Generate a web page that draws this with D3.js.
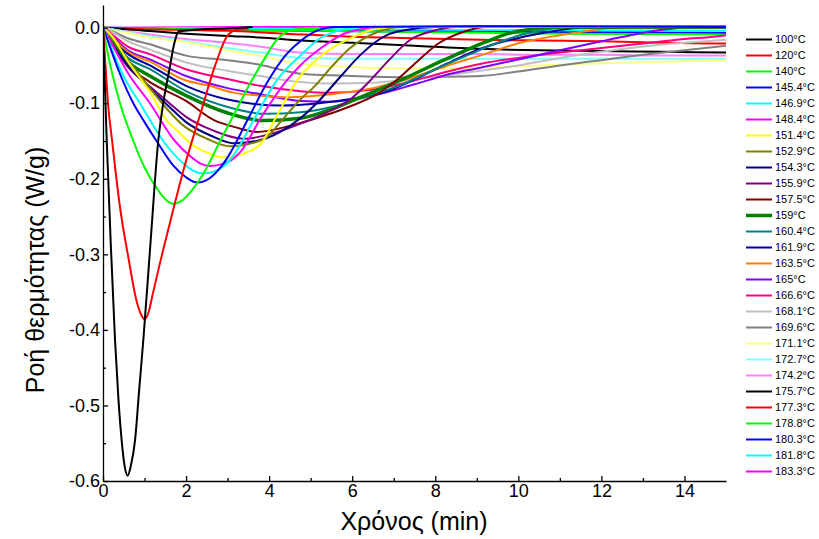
<!DOCTYPE html>
<html>
<head>
<meta charset="utf-8">
<script src="https://d3js.org/d3.v7.min.js"></script>
<style>
  body { margin: 0; background: #fff; }
  svg { display: block; font-family: Arial, "Liberation Sans", sans-serif; }
  .axis text { font-size: 18px; fill: #000; }
  .axis path, .axis line { stroke: #000; stroke-width: 1.3; }
  .title { font-size: 25px; }
  .legend text { font-size: 11px; }
</style>
</head>
<body>
<svg id="chart" width="819" height="539"></svg>
<script>
// legend labels (isothermal temperatures)
const labels = ['100°C', '120°C', '140°C', '145.4°C', '146.9°C', '148.4°C', '151.4°C', '152.9°C',
  '154.3°C', '155.9°C', '157.5°C', '159°C', '160.4°C', '161.9°C', '163.5°C', '165°C', '166.6°C',
  '168.1°C', '169.6°C', '171.1°C', '172.7°C', '174.2°C', '175.7°C', '177.3°C', '178.8°C',
  '180.3°C', '181.8°C', '183.3°C'];
const colors = ['#000000', '#ff0000', '#00ff00', '#0000ff', '#00ffff', '#ff00ff', '#ffff00', '#808000',
  '#000080', '#800080', '#800000', '#008000', '#008080', '#0000a0', '#ff8000', '#8000ff', '#ff0080',
  '#c0c0c0', '#808080', '#ffff80', '#80ffff', '#ff80ff', '#000000', '#ff0000', '#00ff00',
  '#0000ff', '#00ffff', '#ff00ff'];

const xTicks = [0, 2, 4, 6, 8, 10, 12, 14];
const yTicks = [0, -0.1, -0.2, -0.3, -0.4, -0.5, -0.6];

// heat flow curves, [time (min), heat flow (W/g)]
const c100 = [[0,0],[0.03,-0.05],[0.09,-0.15],[0.19,-0.29],[0.29,-0.414],[0.37,-0.49],[0.45,-0.547],[0.52,-0.58],[0.595,-0.593],[0.67,-0.58],[0.77,-0.547],[0.87,-0.48],[0.97,-0.414],[1.15,-0.28],[1.33,-0.15],[1.45,-0.1],[1.6,-0.055],[1.72,-0.02],[1.82,-0.005],[2.4,-0.002],[3.0,-0.001],[3.6,0.001]];
const c120 = [[0,0],[0.06,-0.05],[0.12,-0.1],[0.22,-0.15],[0.41,-0.238],[0.61,-0.304],[0.81,-0.362],[0.92,-0.38],[1.0,-0.386],[1.1,-0.376],[1.2,-0.352],[1.4,-0.305],[1.65,-0.25],[1.93,-0.19],[2.34,-0.115],[2.7,-0.05],[2.98,-0.012],[3.2,-0.003],[3.5,-0.001]];
const c140 = [[0,0],[0.1,-0.03],[0.41,-0.1],[0.73,-0.15],[1.0,-0.185],[1.3,-0.213],[1.5,-0.227],[1.69,-0.233],[1.9,-0.229],[2.1,-0.218],[2.4,-0.195],[2.82,-0.15],[3.2,-0.11],[3.58,-0.07],[3.9,-0.04],[4.2,-0.015],[4.45,-0.005],[4.8,-0.001],[5.2,0]];
const c145 = [[0,0],[0.1,-0.015],[0.4,-0.06],[0.73,-0.1],[1.0,-0.125],[1.29,-0.15],[1.7,-0.183],[2.0,-0.198],[2.27,-0.205],[2.55,-0.2],[2.8,-0.187],[3.02,-0.17],[3.5,-0.12],[3.98,-0.07],[4.42,-0.035],[4.75,-0.018],[5.2,-0.003],[5.6,0.001],[9,0.002],[15,0.001]];
const c146 = [[0,0],[0.15,-0.02],[0.5,-0.065],[0.89,-0.1],[1.45,-0.15],[1.9,-0.178],[2.2,-0.19],[2.41,-0.193],[2.7,-0.19],[2.95,-0.181],[3.13,-0.17],[3.65,-0.12],[4.18,-0.07],[4.75,-0.037],[5.2,-0.015],[5.8,-0.002],[6.3,0.001],[15,0.001]];
const c148 = [[0,0],[0.2,-0.02],[0.6,-0.06],[1.13,-0.1],[1.73,-0.15],[2.1,-0.17],[2.35,-0.18],[2.58,-0.183],[2.9,-0.18],[3.1,-0.175],[3.3,-0.165],[3.85,-0.115],[4.42,-0.07],[4.75,-0.05],[5.3,-0.025],[5.8,-0.008],[6.2,-0.002],[6.6,0.001],[15,0.002]];
const c151 = [[0,0],[0.2,-0.01],[0.6,-0.045],[1.13,-0.085],[1.53,-0.122],[1.86,-0.14],[2.1,-0.153],[2.58,-0.167],[2.89,-0.172],[3.3,-0.168],[3.78,-0.155],[4.2,-0.115],[4.67,-0.07],[5.3,-0.035],[6.0,-0.013],[6.4,-0.004],[7.0,0.001],[15,0.002]];
const c152 = [[0,0],[0.3,-0.02],[0.7,-0.05],[1.13,-0.08],[1.5,-0.105],[1.9,-0.128],[2.5,-0.147],[3.06,-0.157],[3.5,-0.154],[3.94,-0.145],[4.27,-0.125],[4.75,-0.095],[5.07,-0.079],[5.5,-0.052],[5.95,-0.027],[6.6,-0.006],[7.2,0.001],[15,0.002]];
const c154 = [[0,0],[0.2,-0.02],[0.6,-0.05],[1.13,-0.08],[1.6,-0.105],[2.0,-0.125],[2.6,-0.143],[3.14,-0.153],[3.7,-0.15],[4.27,-0.138],[4.75,-0.12],[5.23,-0.095],[5.7,-0.066],[6.2,-0.036],[6.83,-0.01],[7.3,-0.003],[8,0.001],[15,0.002]];
const c155 = [[0,0],[0.2,-0.02],[0.6,-0.052],[1.13,-0.078],[1.6,-0.1],[2.0,-0.118],[2.6,-0.135],[3.4,-0.147],[4.2,-0.138],[4.8,-0.126],[5.4,-0.112],[5.95,-0.095],[6.4,-0.072],[6.9,-0.042],[7.4,-0.016],[7.9,-0.005],[8.5,0.001],[15,0.002]];
const c157 = [[0,0],[0.2,-0.02],[0.6,-0.05],[1.13,-0.072],[2,-0.097],[2.66,-0.122],[3.2,-0.132],[3.7,-0.138],[4.5,-0.13],[5.3,-0.117],[6.0,-0.103],[6.6,-0.088],[7.1,-0.068],[7.6,-0.043],[8.1,-0.02],[8.6,-0.007],[9.2,0.001],[15,0.002]];
const c159 = [[0,0],[0.2,-0.018],[0.6,-0.045],[1.13,-0.064],[2,-0.09],[3,-0.113],[3.86,-0.123],[4.75,-0.12],[5.5,-0.108],[6.2,-0.092],[7.3,-0.066],[8.2,-0.043],[9.25,-0.018],[9.8,-0.007],[10.3,-0.002],[10.8,0.001],[15,0.001]];
const c160 = [[0,0],[0.2,-0.017],[0.6,-0.04],[1.13,-0.055],[2,-0.084],[3,-0.105],[3.9,-0.114],[4.75,-0.112],[5.5,-0.105],[6.3,-0.092],[7.2,-0.075],[8.0,-0.055],[8.8,-0.036],[9.5,-0.02],[10.1,-0.009],[10.7,-0.002],[11.2,0.001],[15,0.001]];
const c161 = [[0,0],[0.2,-0.015],[0.6,-0.035],[1.13,-0.05],[2,-0.077],[3,-0.095],[4.3,-0.103],[5.2,-0.1],[6.0,-0.094],[6.8,-0.085],[7.6,-0.066],[8.3,-0.047],[9.08,-0.028],[9.6,-0.019],[10.3,-0.01],[10.9,-0.004],[11.5,0],[15,0.001]];
const c163 = [[0,0],[0.2,-0.012],[0.6,-0.032],[1.13,-0.045],[2,-0.07],[2.5,-0.076],[3.14,-0.086],[3.8,-0.09],[4.5,-0.092],[5.5,-0.088],[6.5,-0.08],[7.5,-0.065],[8.3,-0.05],[9.08,-0.037],[10.05,-0.02],[11,-0.01],[11.7,-0.004],[12.3,0],[15,0.001]];
const c165 = [[0,0],[0.2,-0.01],[0.6,-0.03],[1.13,-0.042],[2,-0.064],[3,-0.08],[3.78,-0.088],[4.75,-0.097],[5.5,-0.098],[6.5,-0.09],[7.5,-0.075],[8.3,-0.062],[9.08,-0.053],[10,-0.042],[11,-0.03],[12,-0.018],[12.7,-0.01],[13.3,-0.004],[14,0],[15,0.001]];
const c166 = [[0,0],[0.2,-0.008],[0.6,-0.025],[1.13,-0.035],[2,-0.055],[3,-0.068],[3.78,-0.077],[4.75,-0.084],[5.5,-0.086],[6.5,-0.082],[7.5,-0.07],[8.3,-0.058],[9.08,-0.048],[10,-0.04],[11,-0.033],[12,-0.027],[13,-0.021],[14,-0.015],[14.7,-0.012],[15,-0.01]];
const c168 = [[0,0],[0.2,-0.005],[0.6,-0.018],[1.13,-0.029],[2,-0.046],[3,-0.057],[3.78,-0.064],[4.75,-0.072],[5.5,-0.074],[6.5,-0.073],[7.5,-0.068],[8.3,-0.063],[9.08,-0.057],[10,-0.05],[11,-0.04],[12,-0.032],[13,-0.025],[14,-0.02],[15,-0.016]];
const c169 = [[0,0],[0.2,-0.004],[0.6,-0.014],[1.13,-0.022],[2,-0.037],[3,-0.043],[3.78,-0.049],[4.75,-0.061],[5.5,-0.063],[6.5,-0.065],[7.5,-0.066],[8.3,-0.065],[9.08,-0.064],[10,-0.058],[11,-0.05],[12,-0.043],[13,-0.036],[14,-0.03],[15,-0.024]];
const c171 = [[0,0],[0.2,-0.003],[0.6,-0.007],[1.13,-0.013],[2,-0.019],[3,-0.03],[3.78,-0.037],[4.75,-0.048],[6,-0.052],[7.5,-0.054],[9,-0.053],[10.5,-0.05],[12,-0.047],[13.5,-0.045],[15,-0.043]];
const c172 = [[0,0],[0.3,-0.003],[1,-0.01],[2,-0.018],[3,-0.027],[3.78,-0.033],[4.75,-0.04],[6,-0.041],[7.5,-0.041],[9.08,-0.041],[10.5,-0.041],[12,-0.041],[13.5,-0.041],[15,-0.041]];
const c174 = [[0,0],[0.3,-0.003],[1,-0.008],[2,-0.015],[3,-0.02],[3.78,-0.025],[4.75,-0.033],[6,-0.035],[7.5,-0.035],[9.08,-0.035],[10.5,-0.036],[12,-0.036],[13.5,-0.037],[15,-0.037]];
const c175 = [[0,0],[0.3,-0.001],[1,-0.004],[2,-0.008],[3,-0.011],[3.78,-0.013],[4.75,-0.017],[6,-0.02],[7.5,-0.024],[9.08,-0.028],[10.5,-0.03],[12,-0.031],[13.5,-0.032],[15,-0.033]];
const c177 = [[0,0],[1,-0.002],[2,-0.003],[3,-0.004],[4.75,-0.009],[6,-0.012],[7.5,-0.014],[9.08,-0.016],[10.5,-0.017],[12,-0.018],[13.5,-0.02],[15,-0.021]];
const c178 = [[0,0],[2,-0.002],[5,-0.004],[8,-0.006],[11,-0.008],[15,-0.009]];
const c180 = [[0,0],[3,-0.003],[7,-0.005],[11,-0.006],[15,-0.007]];
const c181 = [[0,0],[3,-0.001],[8,-0.003],[15,-0.004]];
const c183 = [[0,0],[5,0.001],[10,0.001],[15,0]];

const curves = [c100, c120, c140, c145, c146, c148, c151, c152, c154, c155, c157, c159, c160,
  c161, c163, c165, c166, c168, c169, c171, c172, c174, c175, c177, c178, c180, c181, c183];

const width = 819;
const height = 539;
const margin = { top: 5, right: 93, bottom: 58, left: 103 };

const svg = d3.select('#chart');

const x = d3.scaleLinear().domain([0, 15]).range([margin.left, width - margin.right]);
const y = d3.scaleLinear().domain([-0.6, 0.03]).range([height - margin.bottom, margin.top]);

svg.append('clipPath').attr('id', 'clip')
  .append('rect')
  .attr('x', margin.left).attr('y', margin.top)
  .attr('width', x(15) - margin.left).attr('height', y(-0.6) - margin.top);

const line = d3.line()
  .x(d => x(d[0]))
  .y(d => y(d[1]))
  .curve(d3.curveMonotoneX);

const lineWidth = d => (d === '159°C' ? 3.5 : 2);

// slow (high temperature) curves underneath, fast ones on top
const order = d3.range(curves.length).reverse();
svg.append('g').attr('clip-path', 'url(#clip)')
  .selectAll('path')
  .data(order)
  .join('path')
  .attr('d', i => line(curves[i]))
  .attr('fill', 'none')
  .attr('stroke', i => colors[i])
  .attr('stroke-width', i => lineWidth(labels[i]))
  .attr('stroke-linejoin', 'round');

// axes
const minorX = d3.range(1, 15, 2);
const minorY = [-0.05, -0.15, -0.25, -0.35, -0.45, -0.55];

svg.append('g')
  .attr('class', 'axis')
  .attr('transform', `translate(0,${y(-0.6)})`)
  .call(d3.axisBottom(x).tickValues(xTicks).tickSizeInner(-5).tickSizeOuter(0).tickPadding(3)
    .tickFormat(d => d));
svg.append('g')
  .attr('class', 'axis')
  .attr('transform', `translate(0,${y(-0.6)})`)
  .call(d3.axisBottom(x).tickValues(minorX).tickSize(-3).tickFormat(''))
  .call(g => g.select('.domain').remove());

svg.append('g')
  .attr('class', 'axis')
  .attr('transform', `translate(${margin.left},0)`)
  .call(d3.axisLeft(y).tickValues(yTicks).tickSizeInner(-5).tickSizeOuter(0).tickPadding(3)
    .tickFormat(d => d.toFixed(1)));
svg.append('g')
  .attr('class', 'axis')
  .attr('transform', `translate(${margin.left},0)`)
  .call(d3.axisLeft(y).tickValues(minorY).tickSize(-3).tickFormat(''))
  .call(g => g.select('.domain').remove());

// axis titles
svg.append('text')
  .attr('class', 'title')
  .attr('x', 414)
  .attr('y', 530)
  .attr('text-anchor', 'middle')
  .text('Χρόνος (min)');

svg.append('text')
  .attr('class', 'title')
  .attr('transform', 'translate(44,270) rotate(-90)')
  .attr('text-anchor', 'middle')
  .text('Ροή θερμότητας (W/g)');

// legend
const legend = svg.append('g').attr('class', 'legend');
const item = legend.selectAll('g')
  .data(labels)
  .join('g')
  .attr('transform', (d, i) => `translate(746,${39.5 + i * 16})`);
item.append('line')
  .attr('x1', 0).attr('x2', 26)
  .attr('stroke', (d, i) => colors[i])
  .attr('stroke-width', d => lineWidth(d));
item.append('text')
  .attr('x', 29)
  .attr('dy', '0.35em')
  .text(d => d);
</script>
</body>
</html>
